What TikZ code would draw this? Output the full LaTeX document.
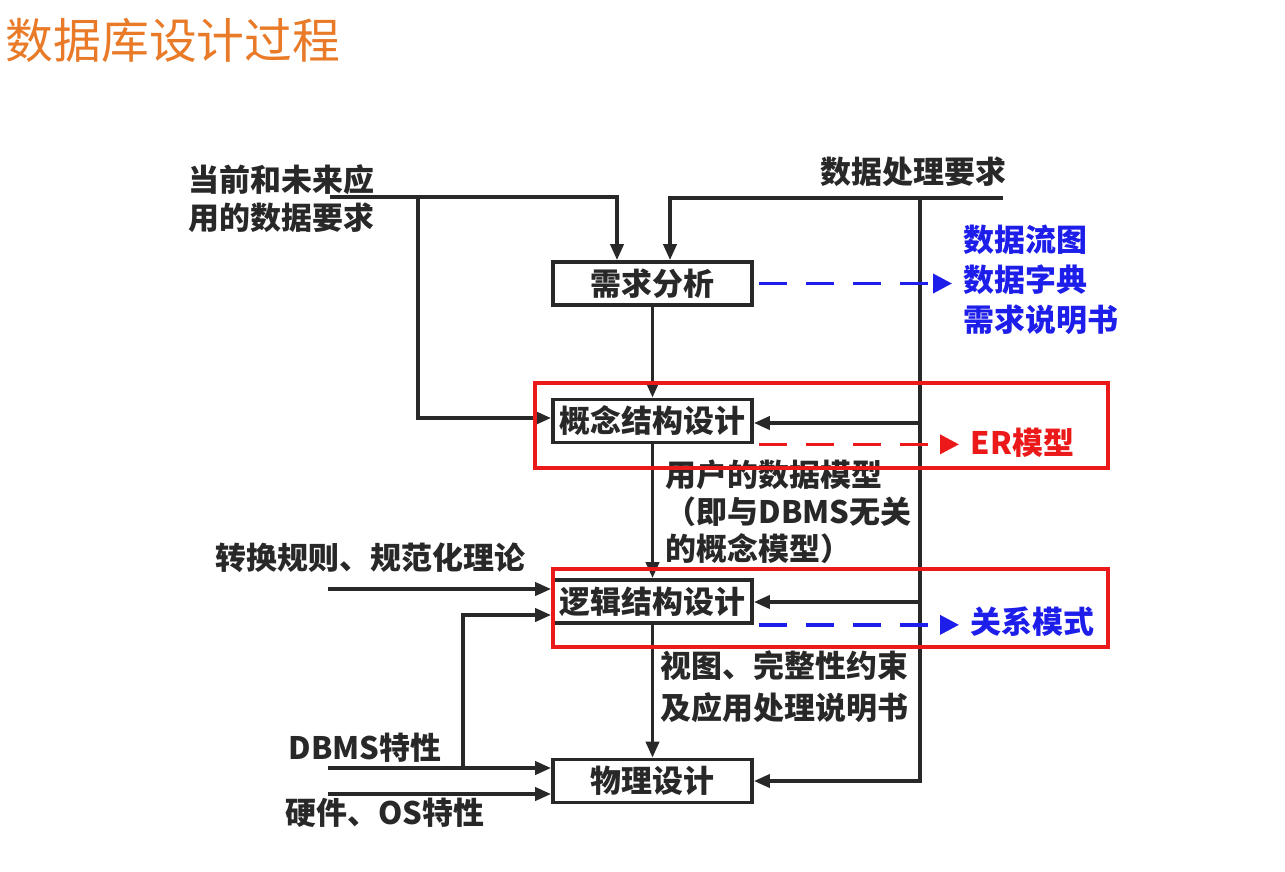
\documentclass[tikz,border=0pt]{standalone}
\usepackage{fontspec}
\usetikzlibrary{arrows.meta, positioning}
\setmainfont{Noto Sans CJK SC}
\usepackage{xcolor}
\definecolor{laranja}{RGB}{232, 122, 40}
\definecolor{azul}{RGB}{30, 30, 235}
\definecolor{vermelho}{RGB}{235, 25, 25}
\definecolor{tinta}{RGB}{40, 40, 40}

\begin{document}
\begin{tikzpicture}[
    y=-1cm,
    fase/.style={
        draw=tinta,
        line width=1.05pt,
        minimum width=1.99cm,
        minimum height=0.43cm,
        inner sep=0pt,
        font=\fontsize{8.8}{10}\selectfont\bfseries,
        text=tinta
    },
    rotulo/.style={
        anchor=west,
        inner sep=0pt,
        align=left,
        text=tinta,
        font=\fontsize{8.8}{10.6}\selectfont\bfseries
    },
    fluxo/.style={
        -{Triangle[length=0.16cm, width=0.13cm]},
        line width=1.05pt,
        tinta
    },
    saida/.style={
        -{Triangle[length=0.19cm, width=0.19cm]},
        line width=1.05pt,
        dash pattern=on 0.28cm off 0.19cm,
        shorten >=0.11cm
    },
    destaque/.style={
        draw=vermelho,
        line width=1.05pt
    }
]

\useasboundingbox (0,0) rectangle (12.85,8.71);

\node[anchor=west, inner sep=0pt, text=laranja,
    font=\fontsize{13.6}{16}\selectfont] (titulo) at (0.05,0.40)
{数据库设计过程};

% =================================================
% ETAPAS
% =================================================

\node[fase] (req) at (6.525,2.835) {需求分析};
\node[fase] (conc) at (6.525,4.21) {概念结构设计};
\node[fase] (logi) at (6.525,6.015) {逻辑结构设计};
\node[fase] (fisi) at (6.525,7.81) {物理设计};

\draw[fluxo] (req) -- (conc);
\draw[fluxo] (conc) -- (logi);
\draw[fluxo] (logi) -- (fisi);

% =================================================
% ENTRADAS
% =================================================

\node[rotulo] (apl) at (1.88,1.985)
{当前和未来应\\用的数据要求};

\coordinate (aplfim) at (3.30,1.97);
\coordinate (aplram) at (4.18,1.97);

\draw[fluxo] (aplfim) -| ([xshift=-0.355cm]req.north);
\draw[fluxo] (aplram) |- ([yshift=0.03cm]conc.west);

\node[rotulo] (proc) at (8.20,1.72)
{数据处理要求};

\coordinate (procfim) at (10.03,1.98);
\coordinate (procram) at (9.20,1.98);
\coordinate (ram1) at (9.20,4.23);
\coordinate (ram2) at (9.20,6.02);

\draw[fluxo] (procfim) -| ([xshift=0.175cm]req.north);
\draw[fluxo] (procram) |- (fisi.east);
\draw[fluxo] (ram1) -- (ram1 -| conc.east);
\draw[fluxo] (ram2) -- (ram2 -| logi.east);

\node[rotulo] (regr) at (2.15,5.58)
{转换规则、规范化理论};

\node[rotulo] (dbms) at (2.88,7.48)
{DBMS特性};

\node[rotulo] (hw) at (2.85,8.13)
{硬件、OS特性};

\coordinate (regrfim) at (3.28,5.89);
\coordinate (dbmsfim) at (3.28,7.68);
\coordinate (dbmsram) at (4.63,7.68);
\coordinate (hwfim) at (3.28,7.94);

\draw[fluxo] (regrfim) -- (regrfim -| logi.west);
\draw[fluxo] (dbmsfim) -- (dbmsfim -| fisi.west);
\draw[fluxo] (dbmsram) |- ([yshift=-0.135cm]logi.west);
\draw[fluxo] (hwfim) -- (hwfim -| fisi.west);

% =================================================
% RESULTADOS
% =================================================

\node[rotulo] (mod) at (6.65,5.12)
{用户的数据模型\\（即与DBMS无关\\的概念模型）};

\node[rotulo, font=\fontsize{8.8}{11.9}\selectfont\bfseries] (vis) at (6.60,6.87)
{视图、完整性约束\\及应用处理说明书};

\node[rotulo, text=azul, font=\fontsize{8.8}{11.3}\selectfont\bfseries] (docs) at (9.63,2.80)
{数据流图\\数据字典\\需求说明书};

\node[rotulo, text=vermelho] (er) at (9.70,4.43)
{ER模型};

\node[rotulo, text=azul] (rel) at (9.70,6.22)
{关系模式};

\draw[saida, azul] ([xshift=0.05cm]req.east) -- (req.east -| docs.west);
\draw[saida, vermelho] ([xshift=0.05cm]conc.south east) -- (conc.south east -| er.west);
\draw[saida, azul] ([xshift=0.05cm]logi.south east) -- (logi.south east -| rel.west);

\draw[destaque] (5.35,3.83) rectangle (11.08,4.68);
\draw[destaque] (5.53,5.69) rectangle (11.08,6.47);

\end{tikzpicture}
\end{document}
